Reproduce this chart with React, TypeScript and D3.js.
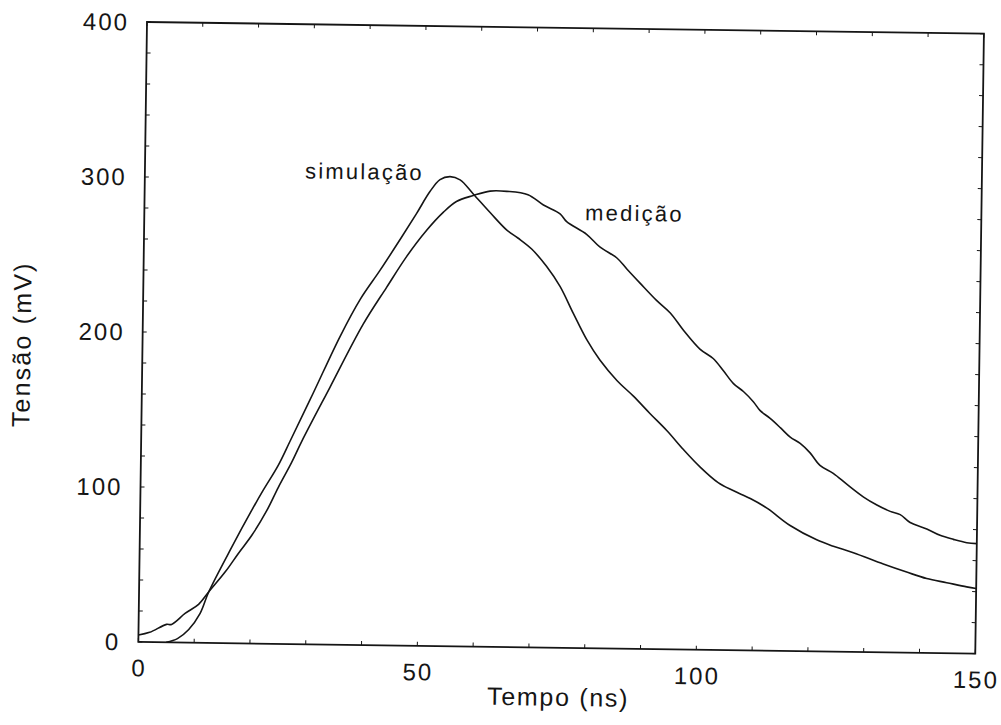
import React from "react";
import * as d3 from "d3";

// Tempo (ns) / Tensão (mV) samples for each trace
const simTime = [5, 7, 9, 11, 12.5, 16.5, 20, 22, 24.6, 26.7, 30.7, 35.4, 38.9, 42.4, 45.9, 48.8, 51.1, 52.9, 54.7, 56.5, 58.9, 62, 65, 67, 69.5, 72.2, 74.7, 77.1, 79.6, 82, 85.1, 88.1, 91.1, 94.2, 97.2, 100.2, 103.5, 106.2, 109.3, 112.3, 116.5, 121.3, 124.3, 127.9, 133.3, 137.5, 141.1, 144.7, 148.3, 150];
const simValue = [0, 2.5, 8.5, 19, 33, 62, 86, 99, 115, 131, 162, 199, 223, 242, 262, 279, 293, 301, 303, 301, 292, 280, 269, 264, 257, 246, 233, 216, 199, 186, 173, 163, 152, 141, 129, 118, 108, 103, 98, 92, 81, 72, 68, 64, 57, 52, 48, 45.5, 43, 42];

const medTime = [0, 2, 5, 5.9, 8.3, 10.7, 12.5, 15.4, 17.7, 20.1, 22.7, 24.7, 27, 28.8, 33.7, 39.5, 43.6, 47.1, 50.6, 53.6, 55.9, 58.9, 61.9, 64.9, 68.7, 71.5, 74.5, 75.7, 79.3, 81.7, 84.8, 86.6, 89, 92, 94.5, 96.9, 99.9, 102.3, 104.2, 106, 107.8, 109.6, 110.8, 112.6, 114.5, 116.3, 118.1, 119.9, 121.7, 124.1, 126.6, 129.6, 132, 134.4, 136.2, 138, 141, 143.4, 145.8, 148.2, 150];
const medValue = [4.5, 6.3, 11.6, 11.6, 18.8, 24.8, 33, 46, 58, 70, 86, 101, 117, 131, 166, 207, 231, 251, 268, 280, 287, 291, 294, 294, 292, 285.5, 280, 275, 267, 259, 252, 245, 236, 225, 217, 206, 194, 188, 180, 172, 167, 160.5, 155, 150, 144, 138, 134, 128, 120, 115, 108, 100, 95, 91, 89, 84, 80, 76, 73.5, 71.5, 71];

const xTickLabels = [0, 50, 100, 150];
const yTickLabels = [0, 100, 200, 300, 400];

// Curve annotations: [label, time, voltage at baseline]
const annotations: [string, number, number][] = [
  ["simulação", 28.7, 300.5],
  ["medição", 79, 276],
];

const W = 837;
const H = 620;
const FONT = "'Liberation Sans', Arial, Helvetica, sans-serif";

export default function App() {
  const x = d3.scaleLinear().domain([0, 150]).range([0, W]);
  const y = d3.scaleLinear().domain([0, 400]).range([H, 0]);

  const line = d3
    .line<[number, number]>()
    .x((d) => x(d[0]))
    .y((d) => y(d[1]))
    .curve(d3.curveCatmullRom.alpha(0.5));

  const simPts = simTime.map((t, i) => [t, simValue[i]] as [number, number]);
  const medPts = medTime.map((t, i) => [t, medValue[i]] as [number, number]);

  const xMinor = d3.range(0, 151, 10);
  const yMinor = d3.range(0, 401, 20);
  const tick = 4;
  const ink = "#151515";

  return (
    <svg
      width={1001}
      height={725}
      style={{ position: "absolute", left: 0, top: 0, background: "#fff" }}
    >
      <g transform="translate(147,22) rotate(0.8)" fontFamily={FONT} fill={ink}>
        {/* inward ticks on all four sides */}
        <g stroke={ink} strokeWidth={1}>
          {xMinor.map((t) => (
            <g key={"xt" + t}>
              <line x1={x(t)} x2={x(t)} y1={H} y2={H - tick} />
              <line x1={x(t)} x2={x(t)} y1={0} y2={tick} />
            </g>
          ))}
          {yMinor.map((v) => (
            <g key={"yt" + v}>
              <line x1={0} x2={tick} y1={y(v)} y2={y(v)} />
              <line x1={W} x2={W - tick} y1={y(v)} y2={y(v)} />
            </g>
          ))}
        </g>

        <rect x={0} y={0} width={W} height={H} fill="none" stroke={ink} strokeWidth={1.8} />

        <path d={line(simPts) ?? ""} fill="none" stroke={ink} strokeWidth={1.6} />
        <path d={line(medPts) ?? ""} fill="none" stroke={ink} strokeWidth={1.6} />

        {xTickLabels.map((t) => (
          <text
            key={"xl" + t}
            x={x(t) + 1}
            y={H + 34.5}
            fontSize={24}
            letterSpacing={2}
            textAnchor="middle"
          >
            {t}
          </text>
        ))}
        {yTickLabels.map((v) => (
          <text
            key={"yl" + v}
            x={-18}
            y={y(v) + 8.6}
            fontSize={24}
            letterSpacing={2}
            textAnchor="end"
          >
            {v}
          </text>
        ))}

        {annotations.map(([label, t, v]) => (
          <text key={label} x={x(t)} y={y(v)} fontSize={22} letterSpacing={2.2}>
            {label}
          </text>
        ))}

        <text x={W / 2 + 2} y={H + 58} fontSize={25} letterSpacing={1.7} textAnchor="middle">
          Tempo (ns)
        </text>
        <text
          transform={`translate(${-121 + 9},${324}) rotate(-90)`}
          fontSize={25}
          letterSpacing={2.2}
          textAnchor="middle"
        >
          Tensão (mV)
        </text>
      </g>
    </svg>
  );
}
